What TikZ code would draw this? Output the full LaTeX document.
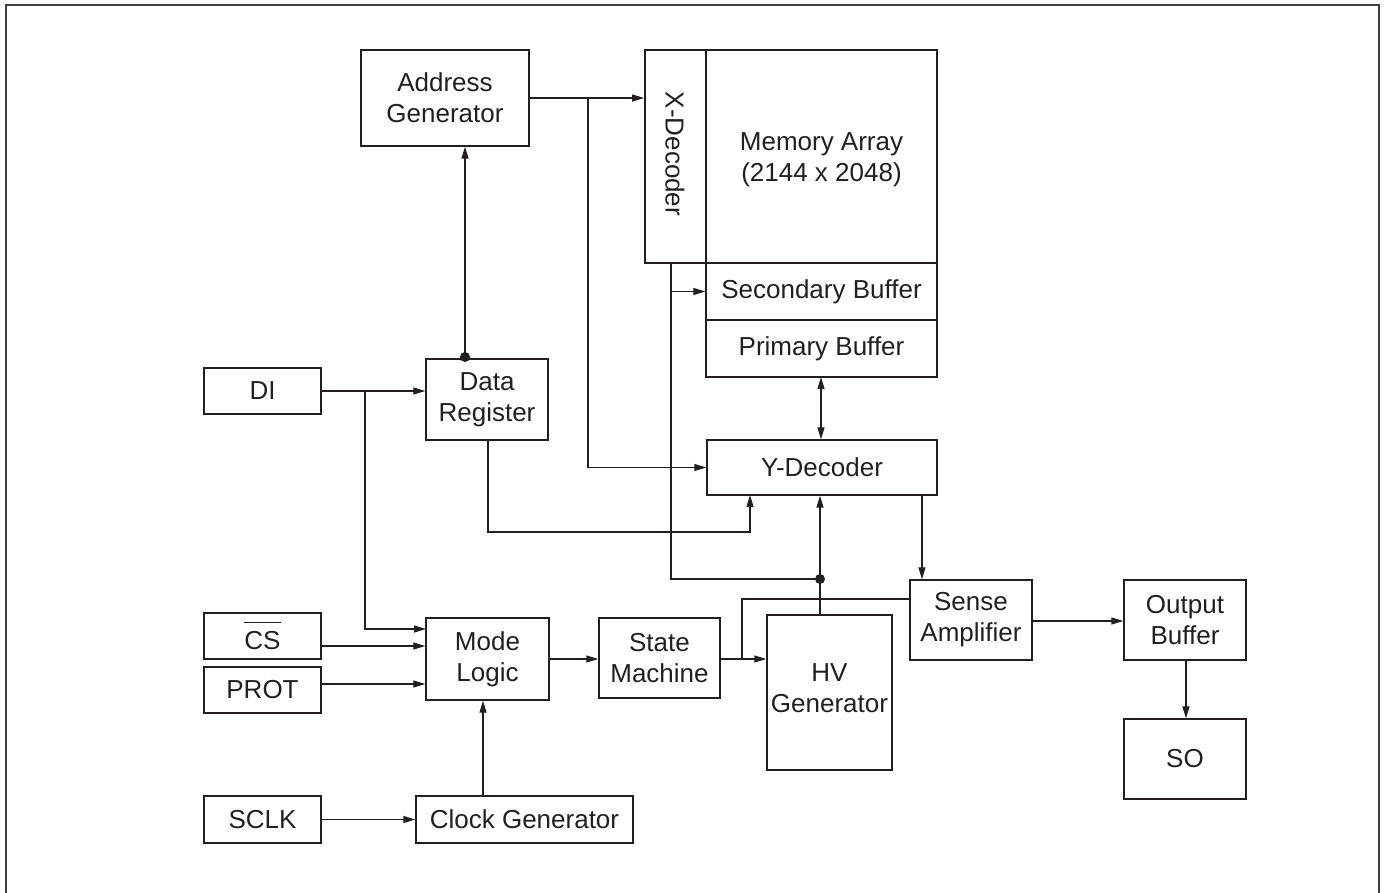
\documentclass[tikz,border=0pt]{standalone}
\usepackage{fontspec}
\setmainfont{Liberation Sans}
\usetikzlibrary{arrows.meta,calc}
\definecolor{ink}{HTML}{231F20}
\newcommand\ovlcs[1]{\leavevmode\vbox{\hrule height 1.2pt\kern 8pt\hbox{#1}}}
\begin{document}
\begin{tikzpicture}[x=1pt,y=-1pt,
  box/.style={draw=ink, line width=1.4pt, inner sep=0pt, align=center,
    font=\fontsize{26}{31}\selectfont, text=ink},
  thick box/.style={box, line width=1.9pt},
  lbl/.style={inner sep=0pt, align=center, font=\fontsize{26}{31}\selectfont, text=ink},
  con/.style={draw=ink, line width=1.3pt},
  arr/.style={con, -{Triangle[length=12pt,width=7pt]}},
  darr/.style={con, {Triangle[length=12pt,width=7pt]}-{Triangle[length=12pt,width=7pt]}},
  jdot/.style={circle, fill=ink, inner sep=0pt, minimum size=10pt}]
\useasboundingbox (0,0) rectangle (1385,893);
% outer frame
\draw[line width=2pt, draw=black!75] (6,897) -- (6,5) -- (1379,5) -- (1379,897);

% blocks
\node[box, minimum width=168pt, minimum height=96pt] (addr) at (445,98) {Address\\Generator};
\node[thick box, minimum width=61pt, minimum height=213pt] (xdec) at (675.5,156.5) {};
\node[lbl, rotate=-90] (xdecl) at (675,154) {X-Decoder};
\node[thick box, minimum width=231pt, minimum height=213pt] (mem) at (821.5,156.5) {};
\node[lbl] (meml) at (821.5,160) {Memory Array\\(2144 x 2048)};
\node[box, minimum width=231pt, minimum height=57pt] (sec) at (821.5,291.5) {Secondary Buffer};
\node[box, minimum width=231pt, minimum height=57pt] (prim) at (821.5,348.5) {Primary Buffer};
\node[box, minimum width=230pt, minimum height=55pt] (ydec) at (822,467.5) {Y-Decoder};
\node[box, minimum width=122pt, minimum height=81pt] (dr) at (487,399.5) {Data\\Register};
\node[box, minimum width=117pt, minimum height=46pt] (di) at (262.5,391) {DI};
\node[box, minimum width=117pt, minimum height=46pt] (cs) at (262.5,636) {\ovlcs{CS}};
\node[box, minimum width=117pt, minimum height=46pt] (prot) at (262.5,690) {PROT};
\node[box, minimum width=123pt, minimum height=82pt] (mode) at (487.5,659) {Mode\\Logic};
\node[box, minimum width=121pt, minimum height=80pt] (sm) at (659.5,658) {State\\Machine};
\node[box, minimum width=125pt, minimum height=155pt] (hv) at (829.5,692.5) {};
\node[lbl] (hvl) at (829.5,688) {HV\\Generator};
\node[box, minimum width=122pt, minimum height=80pt] (sa) at (971,620) {Sense\\Amplifier};
\node[box, minimum width=122pt, minimum height=80pt] (ob) at (1185,620) {Output\\Buffer};
\node[box, minimum width=122pt, minimum height=80pt] (so) at (1185,759) {SO};
\node[box, minimum width=117pt, minimum height=47pt] (sclk) at (262.5,819.5) {SCLK};
\node[box, minimum width=217pt, minimum height=47pt] (clk) at (524.5,819.5) {Clock Generator};

% junction / routing coordinates
\coordinate (j1) at (588,98);
\coordinate (xs) at (671,263);
\coordinate (n1) at (820,579);
\coordinate (hvt) at (820,615);
\coordinate (pb) at (821,377);
\coordinate (ys) at (922,495);
\coordinate (sw) at (910,599);
\coordinate (k) at (742,659);
\coordinate (smo) at (720,659);
\coordinate (j2) at (365,391);
\coordinate (m1) at (426,629);
\coordinate (c1) at (321,646);
\coordinate (p1) at (321,684);
\coordinate (drb) at (488,440);
\coordinate (drc) at (750,532);
\coordinate (yb) at (750,495);
\coordinate (drt) at (465,359);
\coordinate (sae) at (1032,621);
\coordinate (obs) at (1186,660);
\coordinate (ct) at (483,796);

% connectors
\draw[arr] (addr.east) -- (addr.east -| xdec.west);
\draw[arr] (j1) |- (ydec.west);
\draw[con] (xs) |- (n1);
\draw[arr] (xs |- sec.west) -- (sec.west);
\draw[arr] (hvt) -- (hvt |- ydec.south);
\node[jdot] (d1) at (n1) {};
\draw[darr] (pb) -- (pb |- ydec.north);
\draw[arr] (ys) -- (ys |- sa.north);
\draw[con] (sw) -| (k);
\draw[arr] (smo) -- (smo -| hv.west);
\draw[arr] (mode.east) -- (mode.east -| sm.west);
\draw[arr] (di.east) -- (di.east -| dr.west);
\draw[arr] (j2) |- (m1);
\draw[arr] (c1) -- (c1 -| mode.west);
\draw[arr] (p1) -- (p1 -| mode.west);
\draw[arr] (drb) |- (drc) -- (yb);
\draw[arr] (drt) -- (drt |- addr.south);
\node[jdot] (d2) at ($(drt)+(0,-2)$) {};
\draw[arr] (sae) -- (sae -| ob.west);
\draw[arr] (obs) -- (obs |- so.north);
\draw[arr] (ct) -- (ct |- mode.south);
\draw[arr] (sclk.east) -- (sclk.east -| clk.west);
\end{tikzpicture}
\end{document}
